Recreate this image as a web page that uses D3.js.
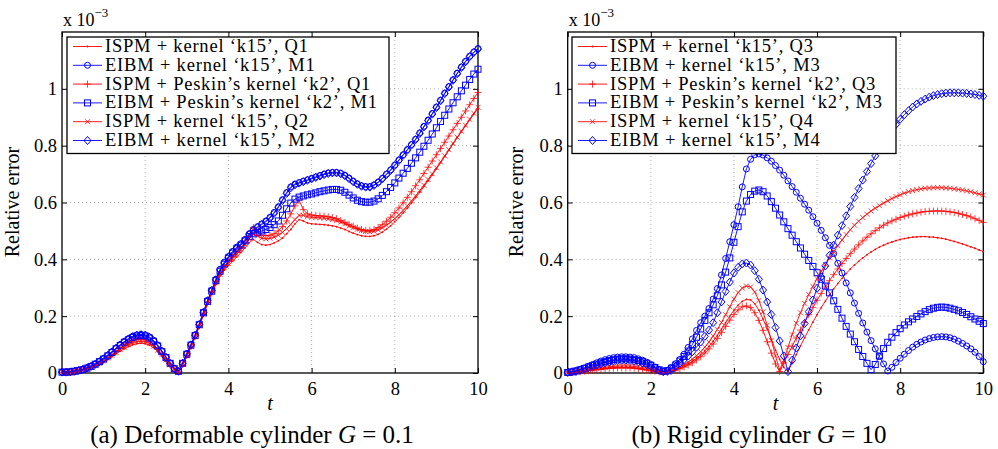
<!DOCTYPE html>
<html><head><meta charset="utf-8">
<script src="https://cdn.jsdelivr.net/npm/d3@7"></script>
<style>body{margin:0;background:#fff}svg{display:block}svg text{font-family:"Liberation Serif","Times New Roman",serif}</style>
</head><body><svg id="c" width="998" height="449"></svg>
<script>
// ---------- data (values in units of 1e-3), sampled at t = 0, 0.1, ..., 10 ----------
const tValues = d3.range(101).map(i => +(i / 10).toFixed(1));
const xTickValues = [0, 2, 4, 6, 8, 10];
const yTickValues = [0, 0.2, 0.4, 0.6, 0.8, 1];

// Left panel (a)
const leftQ1k15 = [0.002,0.002,0.003,0.005,0.007,0.010,0.014,0.018,0.025,0.032,
0.039,0.048,0.058,0.068,0.077,0.085,0.093,0.099,0.103,0.105,
0.103,0.098,0.089,0.075,0.060,0.043,0.027,0.012,0.004,0.028,
0.058,0.090,0.125,0.163,0.203,0.243,0.278,0.312,0.342,0.362,
0.378,0.393,0.408,0.424,0.440,0.458,0.470,0.460,0.452,0.450,
0.452,0.458,0.465,0.475,0.490,0.505,0.525,0.540,0.535,0.528,
0.525,0.524,0.523,0.522,0.520,0.518,0.515,0.510,0.505,0.498,
0.492,0.487,0.483,0.481,0.481,0.483,0.488,0.496,0.506,0.518,
0.532,0.547,0.563,0.580,0.598,0.617,0.636,0.656,0.676,0.697,
0.718,0.740,0.762,0.784,0.806,0.828,0.849,0.870,0.891,0.911,0.930];
const leftM1k15 = [0.003,0.003,0.004,0.006,0.009,0.013,0.018,0.024,0.032,0.041,
0.051,0.063,0.075,0.088,0.100,0.111,0.121,0.129,0.134,0.136,
0.134,0.127,0.115,0.098,0.078,0.056,0.035,0.016,0.006,0.035,
0.068,0.100,0.134,0.172,0.215,0.256,0.292,0.330,0.365,0.390,
0.410,0.428,0.443,0.455,0.470,0.490,0.505,0.515,0.525,0.535,
0.548,0.565,0.585,0.610,0.635,0.655,0.665,0.670,0.675,0.680,
0.685,0.690,0.695,0.700,0.704,0.706,0.706,0.703,0.696,0.686,
0.675,0.666,0.659,0.656,0.656,0.662,0.672,0.685,0.700,0.715,
0.732,0.750,0.768,0.786,0.804,0.823,0.845,0.868,0.890,0.913,
0.936,0.960,0.985,1.008,1.032,1.055,1.077,1.097,1.115,1.130,1.142];
const leftQ1k2 = [0.002,0.003,0.003,0.005,0.008,0.011,0.016,0.021,0.028,0.036,
0.044,0.055,0.065,0.077,0.087,0.097,0.105,0.112,0.117,0.118,
0.117,0.110,0.100,0.085,0.068,0.049,0.030,0.014,0.005,0.031,
0.062,0.094,0.129,0.167,0.208,0.248,0.285,0.320,0.352,0.375,
0.392,0.408,0.424,0.440,0.458,0.480,0.512,0.495,0.485,0.483,
0.485,0.490,0.500,0.515,0.535,0.560,0.588,0.608,0.575,0.560,
0.556,0.554,0.553,0.552,0.550,0.547,0.543,0.537,0.530,0.523,
0.516,0.510,0.505,0.502,0.502,0.505,0.512,0.522,0.534,0.548,
0.564,0.581,0.599,0.618,0.638,0.659,0.680,0.702,0.724,0.746,
0.768,0.790,0.812,0.834,0.856,0.878,0.900,0.922,0.944,0.966,0.987];
const leftM1k2 = [0.003,0.003,0.004,0.006,0.009,0.012,0.017,0.023,0.031,0.040,
0.049,0.060,0.072,0.085,0.097,0.108,0.117,0.125,0.130,0.132,
0.130,0.123,0.111,0.095,0.075,0.054,0.034,0.015,0.006,0.034,
0.066,0.098,0.132,0.170,0.212,0.252,0.288,0.325,0.358,0.383,
0.404,0.422,0.437,0.450,0.465,0.480,0.490,0.495,0.500,0.505,
0.512,0.522,0.535,0.555,0.578,0.598,0.612,0.619,0.623,0.627,
0.630,0.634,0.638,0.641,0.644,0.646,0.646,0.643,0.636,0.626,
0.616,0.608,0.603,0.601,0.601,0.605,0.613,0.625,0.638,0.653,
0.669,0.686,0.703,0.720,0.738,0.757,0.777,0.798,0.819,0.841,
0.863,0.885,0.907,0.929,0.951,0.972,0.993,1.013,1.033,1.052,1.069];
const leftQ2k15 = [0.002,0.002,0.003,0.005,0.007,0.011,0.015,0.020,0.026,0.034,
0.042,0.052,0.062,0.072,0.082,0.091,0.099,0.106,0.110,0.112,
0.110,0.104,0.094,0.080,0.064,0.046,0.029,0.013,0.005,0.030,
0.061,0.093,0.128,0.166,0.207,0.247,0.283,0.318,0.348,0.370,
0.386,0.402,0.418,0.434,0.452,0.472,0.490,0.482,0.474,0.472,
0.474,0.478,0.485,0.495,0.508,0.523,0.540,0.555,0.555,0.550,
0.548,0.547,0.546,0.545,0.543,0.540,0.536,0.531,0.525,0.518,
0.512,0.506,0.501,0.498,0.497,0.499,0.504,0.511,0.520,0.531,
0.543,0.557,0.572,0.588,0.605,0.623,0.642,0.661,0.681,0.701,
0.722,0.743,0.764,0.786,0.808,0.830,0.851,0.872,0.893,0.914,0.935];
const leftM2k15 = [0.003,0.003,0.004,0.006,0.009,0.013,0.018,0.024,0.031,0.040,
0.050,0.062,0.074,0.087,0.099,0.110,0.120,0.128,0.133,0.135,
0.133,0.126,0.114,0.097,0.077,0.055,0.034,0.015,0.006,0.034,
0.067,0.099,0.133,0.171,0.213,0.254,0.290,0.328,0.362,0.387,
0.407,0.425,0.440,0.452,0.467,0.487,0.502,0.512,0.522,0.532,
0.545,0.562,0.582,0.607,0.632,0.652,0.662,0.668,0.673,0.678,
0.683,0.688,0.693,0.698,0.702,0.704,0.704,0.701,0.694,0.684,
0.673,0.664,0.657,0.654,0.654,0.660,0.670,0.683,0.698,0.713,
0.730,0.748,0.766,0.784,0.802,0.821,0.843,0.866,0.888,0.911,
0.934,0.958,0.983,1.006,1.030,1.053,1.075,1.095,1.113,1.128,1.140];

// Right panel (b)
const rightQ3k15 = [0.001,0.002,0.003,0.005,0.007,0.009,0.011,0.013,0.015,0.017,
0.018,0.019,0.020,0.020,0.020,0.019,0.018,0.016,0.014,0.012,
0.009,0.006,0.004,0.002,0.003,0.006,0.011,0.017,0.024,0.032,
0.041,0.052,0.064,0.078,0.094,0.112,0.132,0.154,0.177,0.200,
0.221,0.239,0.252,0.259,0.257,0.244,0.221,0.190,0.155,0.118,
0.081,0.048,0.020,0.005,0.035,0.065,0.095,0.124,0.152,0.179,
0.205,0.230,0.253,0.275,0.296,0.315,0.333,0.350,0.366,0.380,
0.393,0.405,0.416,0.426,0.435,0.443,0.450,0.456,0.461,0.466,
0.470,0.473,0.476,0.478,0.479,0.480,0.480,0.479,0.478,0.476,
0.474,0.471,0.467,0.463,0.459,0.454,0.449,0.444,0.439,0.433,0.427];
const rightM3k15 = [0.002,0.004,0.008,0.013,0.018,0.024,0.030,0.036,0.042,0.047,
0.051,0.054,0.056,0.057,0.057,0.056,0.054,0.050,0.045,0.038,
0.030,0.021,0.012,0.006,0.010,0.020,0.033,0.048,0.066,0.090,
0.120,0.150,0.177,0.200,0.227,0.260,0.297,0.345,0.403,0.462,
0.522,0.585,0.655,0.718,0.752,0.768,0.771,0.767,0.757,0.745,
0.730,0.714,0.696,0.676,0.656,0.636,0.615,0.594,0.573,0.550,
0.527,0.502,0.476,0.449,0.420,0.386,0.352,0.317,0.282,0.246,
0.210,0.176,0.144,0.114,0.085,0.058,0.032,0.007,0.020,0.037,
0.052,0.066,0.079,0.091,0.101,0.109,0.116,0.121,0.125,0.127,
0.128,0.127,0.124,0.119,0.112,0.104,0.095,0.085,0.073,0.058,0.040];
const rightQ3k2 = [0.001,0.002,0.003,0.004,0.006,0.008,0.010,0.012,0.013,0.015,
0.016,0.017,0.018,0.018,0.018,0.018,0.017,0.015,0.013,0.011,
0.008,0.006,0.004,0.002,0.003,0.006,0.010,0.015,0.021,0.028,
0.036,0.046,0.057,0.070,0.085,0.102,0.121,0.142,0.164,0.186,
0.206,0.222,0.233,0.236,0.230,0.212,0.185,0.150,0.110,0.070,
0.032,0.005,0.035,0.065,0.094,0.123,0.151,0.178,0.205,0.231,
0.256,0.280,0.303,0.325,0.346,0.366,0.385,0.403,0.420,0.436,
0.451,0.465,0.478,0.490,0.501,0.511,0.520,0.528,0.535,0.541,
0.547,0.552,0.556,0.560,0.563,0.566,0.568,0.569,0.570,0.570,
0.570,0.569,0.567,0.565,0.562,0.558,0.554,0.549,0.543,0.537,0.530];
const rightM3k2 = [0.002,0.004,0.007,0.011,0.016,0.021,0.026,0.031,0.036,0.040,
0.044,0.047,0.049,0.050,0.050,0.049,0.047,0.044,0.040,0.034,
0.027,0.019,0.011,0.006,0.008,0.017,0.028,0.042,0.058,0.077,
0.100,0.126,0.155,0.185,0.212,0.240,0.272,0.310,0.355,0.405,
0.460,0.515,0.567,0.605,0.628,0.640,0.644,0.638,0.623,0.603,
0.580,0.556,0.532,0.508,0.485,0.462,0.440,0.418,0.396,0.375,
0.353,0.330,0.306,0.282,0.254,0.224,0.193,0.164,0.137,0.110,
0.083,0.058,0.034,0.012,0.030,0.060,0.086,0.108,0.126,0.142,
0.156,0.169,0.180,0.190,0.199,0.208,0.216,0.223,0.228,0.231,
0.232,0.231,0.228,0.224,0.219,0.213,0.206,0.198,0.190,0.182,0.174];
const rightQ4k15 = [0.001,0.002,0.004,0.006,0.008,0.011,0.013,0.016,0.018,0.020,
0.022,0.023,0.024,0.025,0.025,0.024,0.023,0.021,0.019,0.016,
0.013,0.009,0.005,0.003,0.004,0.008,0.014,0.021,0.029,0.038,
0.049,0.061,0.075,0.091,0.109,0.130,0.153,0.178,0.205,0.233,
0.260,0.283,0.299,0.306,0.303,0.285,0.255,0.215,0.168,0.115,
0.060,0.010,0.045,0.090,0.135,0.175,0.212,0.245,0.276,0.305,
0.332,0.358,0.382,0.405,0.427,0.448,0.468,0.487,0.504,0.520,
0.534,0.547,0.559,0.570,0.580,0.589,0.598,0.606,0.614,0.621,
0.627,0.633,0.638,0.642,0.645,0.648,0.650,0.651,0.652,0.652,
0.652,0.651,0.650,0.648,0.646,0.644,0.641,0.638,0.634,0.630,0.626];
const rightM4k15 = [0.002,0.004,0.006,0.010,0.014,0.019,0.024,0.028,0.032,0.036,
0.039,0.042,0.044,0.045,0.045,0.044,0.042,0.039,0.035,0.030,
0.024,0.017,0.010,0.005,0.006,0.014,0.024,0.035,0.047,0.060,
0.075,0.091,0.109,0.129,0.151,0.177,0.212,0.250,0.287,0.320,
0.352,0.372,0.384,0.387,0.380,0.360,0.330,0.292,0.250,0.206,
0.160,0.113,0.060,0.005,0.045,0.088,0.131,0.174,0.216,0.257,
0.298,0.338,0.377,0.414,0.450,0.485,0.519,0.553,0.586,0.618,
0.649,0.679,0.709,0.737,0.764,0.789,0.813,0.835,0.856,0.875,
0.893,0.909,0.923,0.936,0.947,0.956,0.964,0.971,0.976,0.980,
0.983,0.985,0.986,0.986,0.986,0.985,0.984,0.982,0.980,0.977,0.974];

const leftLabels = ["ISPM + kernel \u2018k15\u2019, Q1", "EIBM + kernel \u2018k15\u2019, M1",
  "ISPM + Peskin\u2019s kernel \u2018k2\u2019, Q1", "EIBM + Peskin\u2019s kernel \u2018k2\u2019, M1",
  "ISPM + kernel \u2018k15\u2019, Q2", "EIBM + kernel \u2018k15\u2019, M2"];
const rightLabels = ["ISPM + kernel \u2018k15\u2019, Q3", "EIBM + kernel \u2018k15\u2019, M3",
  "ISPM + Peskin\u2019s kernel \u2018k2\u2019, Q3", "EIBM + Peskin\u2019s kernel \u2018k2\u2019, M3",
  "ISPM + kernel \u2018k15\u2019, Q4", "EIBM + kernel \u2018k15\u2019, M4"];
const markerTypes = ["dot", "circle", "plus", "square", "cross", "diamond"];
const seriesColors = ["#ff0000", "#0000ff", "#ff0000", "#0000ff", "#ff0000", "#0000ff"];

const panels = [
  {x0: 62, x1: 478, series: [leftQ1k15, leftM1k15, leftQ1k2, leftM1k2, leftQ2k15, leftM2k15],
   labels: leftLabels, legend: {x: 67, y: 37, w: 322, h: 116.5},
   caption: ["(a) Deformable cylinder ", "G", " = 0.1"], capX: 252, ylabX: 19},
  {x0: 567.7, x1: 983.3, series: [rightQ3k15, rightM3k15, rightQ3k2, rightM3k2, rightQ4k15, rightM4k15],
   labels: rightLabels, legend: {x: 572, y: 37, w: 324, h: 116.5},
   caption: ["(b) Rigid cylinder ", "G", " = 10"], capX: 759, ylabX: 523}
];

const svg = d3.select("#c");
const FONT = "Liberation Serif";
const yTop = 32, yBot = 373;

function marker(g, type, x, y, color) {
  if (type === "circle") g.append("circle").attr("cx", x).attr("cy", y).attr("r", 3).attr("fill", "none").attr("stroke", color).attr("stroke-width", 1);
  else if (type === "square") g.append("rect").attr("x", x - 3).attr("y", y - 3).attr("width", 6).attr("height", 6).attr("fill", "none").attr("stroke", color).attr("stroke-width", 1);
  else if (type === "diamond") g.append("path").attr("d", `M${x},${y-4}L${x+3.5},${y}L${x},${y+4}L${x-3.5},${y}Z`).attr("fill", "none").attr("stroke", color).attr("stroke-width", 1);
  else if (type === "plus") g.append("path").attr("d", `M${x-3.5},${y}H${x+3.5}M${x},${y-3.5}V${y+3.5}`).attr("stroke", color).attr("stroke-width", 1).attr("opacity", 0.75);
  else if (type === "cross") g.append("path").attr("d", `M${x-2.5},${y-2.5}L${x+2.5},${y+2.5}M${x-2.5},${y+2.5}L${x+2.5},${y-2.5}`).attr("stroke", color).attr("stroke-width", 1).attr("opacity", 0.75);
  else if (type === "dot") g.append("circle").attr("cx", x).attr("cy", y).attr("r", 0.9).attr("fill", color);
}

panels.forEach(p => {
  const x = d3.scaleLinear().domain([0, 10]).range([p.x0, p.x1]);
  const y = d3.scaleLinear().domain([0, 1.2]).range([yBot, yTop]);
  const g = svg.append("g");

  // grid
  const grid = g.append("g").attr("stroke", "#9a9a9a").attr("stroke-width", 0.8).attr("stroke-dasharray", "1,3");
  xTickValues.slice(1, -1).forEach(v => grid.append("line").attr("x1", x(v)).attr("x2", x(v)).attr("y1", yTop).attr("y2", yBot));
  yTickValues.slice(1).forEach(v => grid.append("line").attr("x1", p.x0).attr("x2", p.x1).attr("y1", y(v)).attr("y2", y(v)));

  // axes (ticks inward)
  const fmt = d => d === 0 ? "0" : d === 1 ? "1" : String(d);
  const ax = g.append("g").attr("transform", `translate(0,${yBot})`).call(d3.axisBottom(x).tickValues(xTickValues).tickSize(-5).tickPadding(9).tickFormat(d3.format("d")));
  const axT = g.append("g").attr("transform", `translate(0,${yTop})`).call(d3.axisTop(x).tickValues(xTickValues).tickSize(-5).tickFormat(""));
  const ay = g.append("g").attr("transform", `translate(${p.x0},0)`).call(d3.axisLeft(y).tickValues(yTickValues).tickSize(-5).tickPadding(5).tickFormat(fmt));
  const ayR = g.append("g").attr("transform", `translate(${p.x1},0)`).call(d3.axisRight(y).tickValues(yTickValues).tickSize(-5).tickFormat(""));
  [ax, axT, ay, ayR].forEach(a => {
    a.attr("font-family", FONT);
    a.select(".domain").remove();
    a.selectAll("line").attr("stroke", "#000").attr("stroke-width", 1);
    a.selectAll("text").attr("font-family", FONT).attr("font-size", 18.5).attr("fill", "#000");
  });
  g.append("rect").attr("x", p.x0).attr("y", yTop).attr("width", p.x1 - p.x0).attr("height", yBot - yTop)
    .attr("fill", "none").attr("stroke", "#000").attr("stroke-width", 1.3);

  // series
  const line = d3.line().x((d, i) => x(tValues[i])).y(d => y(d));
  p.series.forEach((data, k) => {
    const sg = g.append("g");
    sg.append("path").datum(data).attr("d", line).attr("fill", "none").attr("stroke", seriesColors[k]).attr("stroke-width", 0.9);
    data.forEach((v, i) => marker(sg, markerTypes[k], x(tValues[i]), y(v), seriesColors[k]));
  });

  // legend
  const L = p.legend;
  const lg = g.append("g");
  lg.append("rect").attr("x", L.x).attr("y", L.y).attr("width", L.w).attr("height", L.h).attr("fill", "#fff").attr("stroke", "#000").attr("stroke-width", 1.3);
  const texts = [];
  p.labels.forEach((lab, k) => {
    const cy = L.y + 9.5 + k * 18.8;
    lg.append("line").attr("x1", L.x + 6).attr("x2", L.x + 35).attr("y1", cy).attr("y2", cy).attr("stroke", seriesColors[k]).attr("stroke-width", 0.9);
    marker(lg, markerTypes[k], L.x + 20.5, cy, seriesColors[k]);
    texts.push(lg.append("text").attr("x", L.x + 38).attr("y", cy + 5.5).attr("font-family", FONT).attr("font-size", 18.5).text(lab));
  });
  const widths = texts.map(t => t.node().getComputedTextLength());
  const scale = 272 / d3.max(widths);
  if (scale > 1) texts.forEach((t, i) => t.attr("textLength", widths[i] * scale).attr("lengthAdjust", "spacing"));

  // axis labels
  g.append("text").attr("transform", `translate(${p.ylabX},${(yTop + yBot) / 2 - 0.5}) rotate(-90)`).attr("text-anchor", "middle")
    .attr("font-family", FONT).attr("font-size", 20).text("Relative error");
  g.append("text").attr("x", (p.x0 + p.x1) / 2).attr("y", 410).attr("text-anchor", "middle")
    .attr("font-family", FONT).attr("font-style", "italic").attr("font-size", 20).text("t");
  const mt = g.append("text").attr("x", p.x0 + 1).attr("y", 26).attr("font-family", FONT).attr("font-size", 18);
  mt.append("tspan").text("x 10");
  mt.append("tspan").attr("font-size", 13).attr("dy", -9).text("\u22123");
  const cap = g.append("text").attr("x", p.capX).attr("y", 443).attr("text-anchor", "middle").attr("font-family", FONT).attr("font-size", 25);
  cap.append("tspan").text(p.caption[0]);
  cap.append("tspan").attr("font-style", "italic").text(p.caption[1]);
  cap.append("tspan").text(p.caption[2]);
});
</script></body></html>
